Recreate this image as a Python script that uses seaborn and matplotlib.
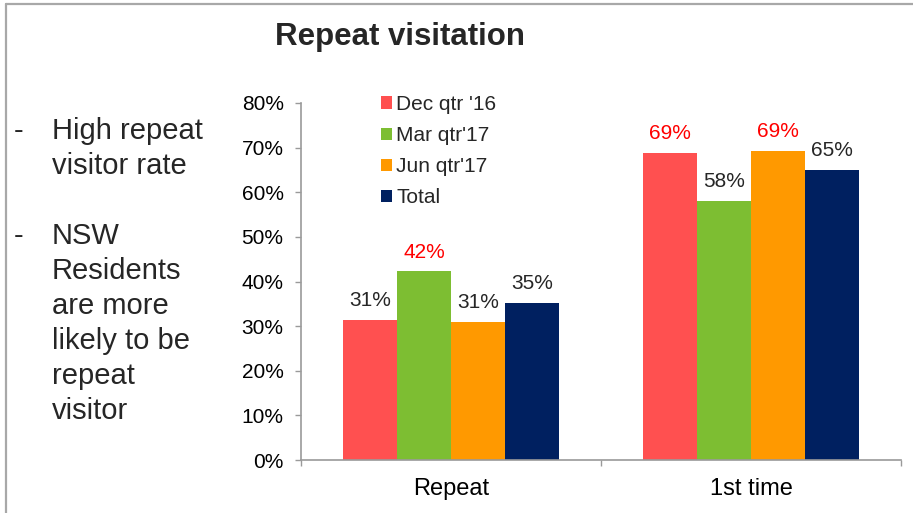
import matplotlib

matplotlib.use("Agg")

import matplotlib.pyplot as plt  # noqa: E402
import pandas as pd  # noqa: E402
import seaborn as sns  # noqa: E402
from matplotlib.lines import Line2D  # noqa: E402
from matplotlib.ticker import FixedLocator, FuncFormatter  # noqa: E402

# --- data ---
visit_types = ["Repeat", "1st time"]
quarters = ["Dec qtr '16", "Mar qtr'17", "Jun qtr'17", "Total"]
repeat_share = [31.4, 42.3, 30.9, 35.2]
first_time_share = [68.8, 58.1, 69.3, 65.0]
y_ticks = [0, 10, 20, 30, 40, 50, 60, 70, 80]

title = "Repeat visitation"
notes = [
    ("-", ["High repeat", "visitor rate"]),
    ("-", ["NSW", "Residents", "are more", "likely to be", "repeat", "visitor"]),
]

colors = {
    "Dec qtr '16": "#ff5050",
    "Mar qtr'17": "#7dbe32",
    "Jun qtr'17": "#ff9900",
    "Total": "#002060",
}
AXIS_GREY = "#9a9a9a"
HIGHLIGHT = "#ff0000"

df = pd.DataFrame({
    "Visit": [visit_types[0]] * len(quarters) + [visit_types[1]] * len(quarters),
    "Quarter": quarters * 2,
    "Share": repeat_share + first_time_share,
})

sns.set_style("white")
plt.rcParams["font.family"] = ["Liberation Sans", "DejaVu Sans"]

fig = plt.figure(figsize=(9.13, 5.13), dpi=100)
ax = fig.add_axes([301 / 913, 1 - 460 / 513, 600 / 913, 357 / 513])

sns.barplot(data=df, x="Visit", y="Share", hue="Quarter", order=visit_types,
            hue_order=quarters, palette=colors, width=0.72, saturation=1,
            errorbar=None, linewidth=0, ax=ax)

ax.set_ylim(0, 80)
ax.set_xlim(-0.5, 1.5)
ax.set_xlabel("")
ax.set_ylabel("")

# y axis
ax.yaxis.set_major_locator(FixedLocator(y_ticks))
ax.yaxis.set_major_formatter(FuncFormatter(lambda v, _: f"{v:.0f}%"))
ax.tick_params(axis="y", direction="out", length=4.5, width=1, color=AXIS_GREY,
               labelsize=15, labelcolor="black", pad=8, left=True)

# x axis: labels at category centres, tick marks between categories
ax.tick_params(axis="x", which="major", length=0, labelsize=17,
               labelcolor="black", pad=13)
ax.xaxis.set_minor_locator(FixedLocator([-0.5, 0.5, 1.5]))
ax.tick_params(axis="x", which="minor", direction="out", length=4.5, width=1,
               color=AXIS_GREY, bottom=True)

for side in ("top", "right"):
    ax.spines[side].set_visible(False)
for side in ("left", "bottom"):
    ax.spines[side].set_color(AXIS_GREY)
    ax.spines[side].set_linewidth(1.2)
ax.grid(False)

# value labels; the highest quarter per group is shown in red
group_values = [repeat_share, first_time_share]
for q_idx, container in enumerate(ax.containers):
    vals = [g[q_idx] for g in group_values]
    texts = ax.bar_label(container, labels=[f"{v:.0f}%" for v in vals],
                         padding=7, fontsize=15)
    for g_idx, t in enumerate(texts):
        quarter_max = max(round(v) for v in group_values[g_idx][:3])
        if q_idx < 3 and round(group_values[g_idx][q_idx]) == quarter_max:
            t.set_color(HIGHLIGHT)

ax.legend(loc="upper left", bbox_to_anchor=(381 / 913, 1 - 95 / 513),
          bbox_transform=fig.transFigure, frameon=False, fontsize=15,
          handlelength=0.53, handleheight=0.53, handletextpad=0.2,
          labelspacing=0.58, borderpad=0, borderaxespad=0)

fig.text(400 / 913, 1 - 45 / 513, title, ha="center", va="baseline",
         fontsize=22.5, fontweight="bold")

# side notes
line_step = 35
y = 139
for bullet, lines in notes:
    fig.text(14 / 913, 1 - y / 513, bullet, fontsize=21, va="baseline")
    for line in lines:
        fig.text(52 / 913, 1 - y / 513, line, fontsize=21, va="baseline")
        y += line_step
    y += line_step

# frame edges visible in the reference
fig.add_artist(Line2D([6 / 913, 6 / 913], [0, 1 - 3.5 / 513],
                      transform=fig.transFigure, color="#a8a8a8", lw=1.6))
fig.add_artist(Line2D([6 / 913, 1], [1 - 3.5 / 513, 1 - 3.5 / 513],
                      transform=fig.transFigure, color="#a8a8a8", lw=1.6))

fig.savefig("out.png", dpi=100)
